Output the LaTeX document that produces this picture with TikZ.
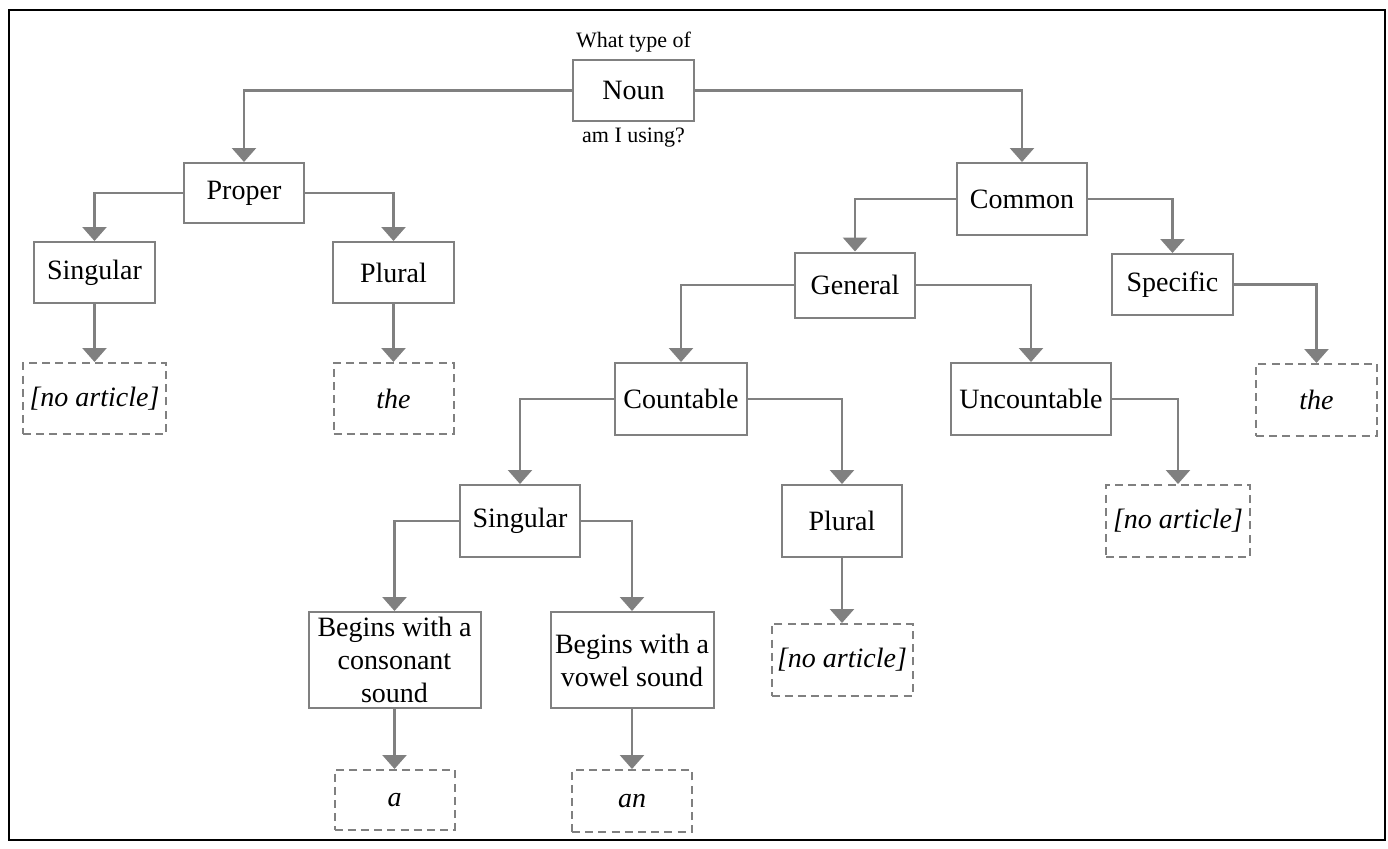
\documentclass[tikz,border=0pt]{standalone}
\usepackage{fontspec}
\setmainfont{Liberation Serif}
\usepackage{tikz}
\usetikzlibrary{arrows.meta}

\definecolor{linegray}{RGB}{128,128,128}

\tikzset{
  catbox/.style={draw=linegray,line width=1pt,rectangle,align=center,
    inner sep=0pt,font=\fontsize{14}{16.5}\selectfont},
  artbox/.style={catbox,dash pattern=on 4pt off 2.6pt,font=\fontsize{14}{16.5}\selectfont\itshape},
  link/.style={draw=linegray,line width=1.3pt,-{Triangle[width=12pt,length=7pt]}},
  qtext/.style={font=\fontsize{11}{13}\selectfont,inner sep=0pt}
}

\begin{document}
\begin{tikzpicture}[x=0.5pt,y=-0.5pt]
\useasboundingbox (0,0) rectangle (1388,848);
\draw[line width=1.2pt] (9,10) rectangle (1385,840);

% top level
\node[catbox,minimum width=60.5pt,minimum height=30.5pt] (noun) at (633.5,90.5) {Noun};
\node[qtext] (qtop) at (633.5,42) {What type of};
\node[qtext] (qbot) at (633.5,138) {am I using?};

\node[catbox,minimum width=60pt,minimum height=30pt] (proper) at (244,193) {Proper};
\node[catbox,minimum width=65pt,minimum height=36pt] (common) at (1022,199) {Common};

% proper nouns
\node[catbox,minimum width=60.5pt,minimum height=30.5pt] (psing) at (94.5,272.5) {Singular};
\node[catbox,minimum width=60.5pt,minimum height=30.5pt] (pplur) at (393.5,272.5) {Plural};
\node[artbox,minimum width=71.5pt,minimum height=35.5pt] (psingart) at (94.5,398.5) {[no article]};
\node[artbox,minimum width=60pt,minimum height=35.5pt] (pplurart) at (393.5,398.5) {the};

% common nouns
\node[catbox,minimum width=60pt,minimum height=32.5pt] (general) at (855,285) {General};
\node[catbox,minimum width=60.5pt,minimum height=30.5pt] (specific) at (1172.5,284.5) {Specific};
\node[artbox,minimum width=60.5pt,minimum height=36pt] (specart) at (1316.5,400) {the};

\node[catbox,minimum width=66pt,minimum height=36pt] (count) at (681,399) {Countable};
\node[catbox,minimum width=80pt,minimum height=36pt] (uncount) at (1031,399) {Uncountable};
\node[artbox,minimum width=72pt,minimum height=36pt] (uncountart) at (1178,521) {[no article]};

\node[catbox,minimum width=60pt,minimum height=36pt] (csing) at (520,521) {Singular};
\node[catbox,minimum width=60pt,minimum height=36pt] (cplur) at (842,521) {Plural};
\node[artbox,minimum width=70.5pt,minimum height=36pt] (cplurart) at (842,660) {[no article]};

\node[catbox,minimum width=86pt,minimum height=48pt] (conson) at (394.5,660) {Begins with a\\consonant\\sound};
\node[catbox,minimum width=81.5pt,minimum height=48pt] (vowel) at (632,660) {Begins with a\\vowel sound};
\node[artbox,minimum width=60pt,minimum height=30pt] (consart) at (394.5,800) {a};
\node[artbox,minimum width=60pt,minimum height=31pt] (vowelart) at (632,801) {an};

% connectors
\draw[link] (noun.west) -| (proper.north);
\draw[link] (noun.east) -| (common.north);
\draw[link] (proper.west) -| (psing.north);
\draw[link] (proper.east) -| (pplur.north);
\draw[link] (psing.south) -- (psingart.north);
\draw[link] (pplur.south) -- (pplurart.north);
\draw[link] (common.west) -| (general.north);
\draw[link] (common.east) -| (specific.north);
\draw[link] (specific.east) -| (specart.north);
\draw[link] (general.west) -| (count.north);
\draw[link] (general.east) -| (uncount.north);
\draw[link] (uncount.east) -| (uncountart.north);
\draw[link] (count.west) -| (csing.north);
\draw[link] (count.east) -| (cplur.north);
\draw[link] (cplur.south) -- (cplurart.north);
\draw[link] (csing.west) -| (conson.north);
\draw[link] (csing.east) -| (vowel.north);
\draw[link] (conson.south) -- (consart.north);
\draw[link] (vowel.south) -- (vowelart.north);
\end{tikzpicture}
\end{document}
